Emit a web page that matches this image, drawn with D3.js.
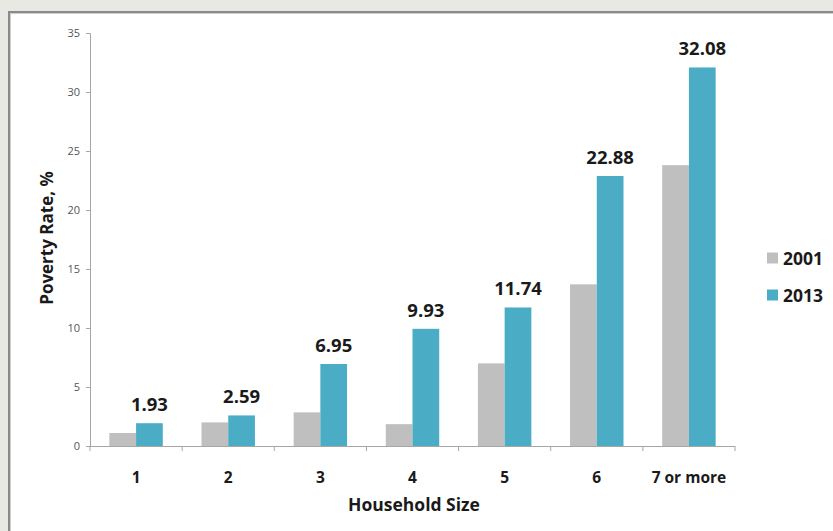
<!DOCTYPE html>
<html>
<head>
<meta charset="utf-8">
<script src="https://cdn.jsdelivr.net/npm/d3@7"></script>
<style>
  html, body { margin: 0; padding: 0; background: #e9e9e3; }
  svg { display: block; }
</style>
</head>
<body>
<svg id="chart" width="833" height="531"></svg>
<script>
// Poverty rate by household size, 2001 vs 2013
const categories = ["1", "2", "3", "4", "5", "6", "7 or more"];
const seriesNames = ["2001", "2013"];
const values2001 = [1.1, 2.0, 2.85, 1.85, 7.0, 13.7, 23.8];
const values2013 = [1.93, 2.59, 6.95, 9.93, 11.74, 22.88, 32.08];
const yTicks = [0, 5, 10, 15, 20, 25, 30, 35];
const colors = ["#bfbfbf", "#4bacc6"];

const svg = d3.select("#chart");
const W = 833, H = 531;

// Framed white panel
svg.append("rect").attr("x", 0).attr("y", 0).attr("width", W).attr("height", H).attr("fill", "#e9e9e3");
svg.append("rect").attr("x", 9).attr("y", 12).attr("width", W + 20).attr("height", H + 20)
  .attr("fill", "#ffffff").attr("stroke", "#8a8a8a").attr("stroke-width", 2);
svg.append("line").attr("x1", 10.5).attr("x2", 10.5).attr("y1", 13).attr("y2", H)
  .attr("stroke", "#cfcfcf").attr("stroke-width", 1);
svg.append("line").attr("x1", 10).attr("x2", W).attr("y1", 13.5).attr("y2", 13.5)
  .attr("stroke", "#cfcfcf").attr("stroke-width", 1);

const plot = { left: 90, right: 735, top: 33, bottom: 446 };

const x0 = d3.scaleBand().domain(categories).range([plot.left, plot.right]).paddingInner(0.42).paddingOuter(0.21);
const x1 = d3.scaleBand().domain(seriesNames).range([0, x0.bandwidth()]);
const y = d3.scaleLinear().domain([0, 35]).range([plot.bottom, plot.top]);

const font = "'Open Sans', 'DejaVu Sans', sans-serif";

// Y axis
const yAxis = svg.append("g").attr("transform", `translate(${plot.left},0)`)
  .call(d3.axisLeft(y).tickValues(yTicks).tickSize(4).tickPadding(6));
yAxis.select(".domain").attr("stroke", "#a6a6a6");
yAxis.selectAll(".tick line").attr("stroke", "#a6a6a6");
yAxis.selectAll(".tick text").attr("fill", "#555").style("font-family", font).style("font-size", "11px");

// X axis with boundary ticks between categories
const xAxis = svg.append("g").attr("transform", `translate(0,${plot.bottom})`);
xAxis.append("line").attr("x1", plot.left).attr("x2", plot.right).attr("y1", 0.5).attr("y2", 0.5)
  .attr("stroke", "#a6a6a6");
const bounds = d3.range(categories.length + 1).map(i => plot.left + i * (plot.right - plot.left) / categories.length);
xAxis.selectAll("line.tk").data(bounds).join("line").attr("class", "tk")
  .attr("x1", d => d).attr("x2", d => d).attr("y1", 0).attr("y2", 5).attr("stroke", "#a6a6a6");
xAxis.selectAll("text.cat").data(categories).join("text").attr("class", "cat")
  .attr("x", (d, i) => (bounds[i] + bounds[i + 1]) / 2).attr("y", 37)
  .attr("text-anchor", "middle").attr("fill", "#1a1a1a")
  .style("font-family", font).style("font-weight", "700").style("font-size", "15.5px")
  .text(d => d);

// Bars
const rows = categories.map((c, i) => ({ cat: c, vals: [values2001[i], values2013[i]] }));
const groups = svg.append("g").selectAll("g").data(rows).join("g")
  .attr("transform", d => `translate(${x0(d.cat)},0)`);
groups.selectAll("rect").data(d => d.vals.map((v, j) => ({ s: seriesNames[j], v, j }))).join("rect")
  .attr("x", d => x1(d.s)).attr("width", x1.bandwidth())
  .attr("y", d => y(d.v)).attr("height", d => y(0) - y(d.v))
  .attr("fill", d => colors[d.j]);

// Value labels for 2013
groups.append("text")
  .attr("x", x1("2013") + x1.bandwidth() / 2)
  .attr("y", d => y(d.vals[1]) - 12)
  .attr("text-anchor", "middle").attr("fill", "#1a1a1a")
  .style("font-family", font).style("font-weight", "700").style("font-size", "18.5px")
  .text(d => d.vals[1].toFixed(2));

// Axis titles
svg.append("text").attr("x", 414).attr("y", 511).attr("text-anchor", "middle")
  .attr("fill", "#1a1a1a").style("font-family", font).style("font-weight", "700").style("font-size", "17.5px")
  .text("Household Size");
svg.append("text").attr("transform", "translate(53,238) rotate(-90)").attr("text-anchor", "middle")
  .attr("fill", "#1a1a1a").style("font-family", font).style("font-weight", "700").style("font-size", "17px")
  .text("Poverty Rate, %");

// Legend
const legend = svg.append("g").selectAll("g").data(seriesNames).join("g")
  .attr("transform", (d, i) => `translate(767,${258 + i * 37})`);
legend.append("rect").attr("x", 0).attr("y", -5.5).attr("width", 11).attr("height", 11)
  .attr("fill", (d, i) => colors[i]);
legend.append("text").attr("x", 16).attr("y", 6.5).attr("fill", "#1a1a1a")
  .style("font-family", font).style("font-weight", "700").style("font-size", "17.5px")
  .text(d => d);
</script>
</body>
</html>
